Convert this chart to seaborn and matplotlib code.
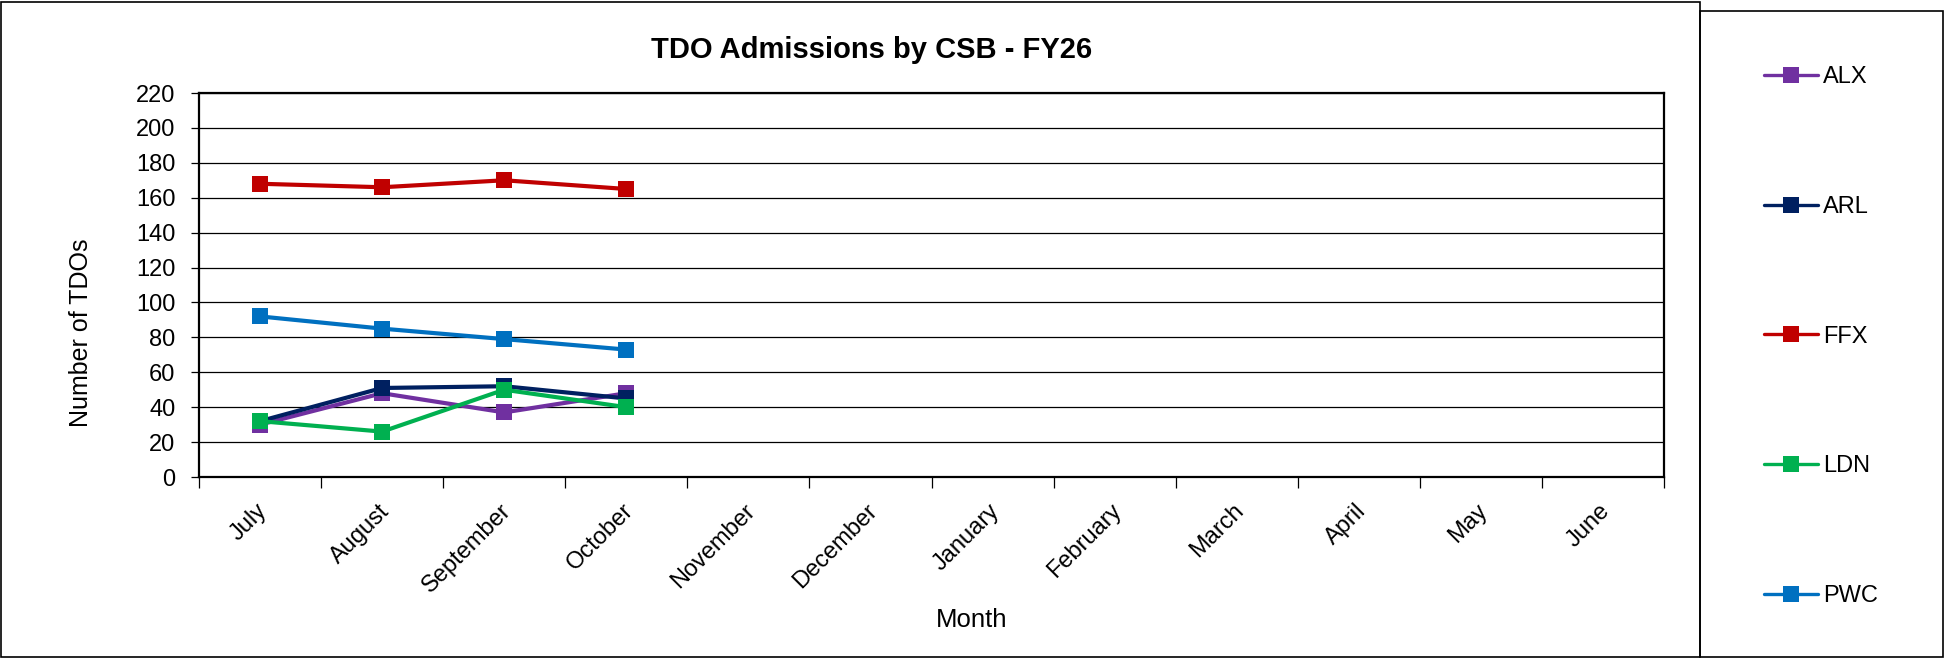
import matplotlib
matplotlib.use("Agg")
import matplotlib.pyplot as plt
import matplotlib.transforms as mtransforms
from matplotlib.patches import Rectangle
import seaborn as sns
import pandas as pd
import numpy as np

months = ["July", "August", "September", "October", "November", "December",
          "January", "February", "March", "April", "May", "June"]
series_names = ["ALX", "ARL", "FFX", "LDN", "PWC"]
alx = [30, 48, 37, 48]
arl = [32, 51, 52, 45]
ffx = [168, 166, 170, 165]
ldn = [32, 26, 50, 40]
pwc = [92, 85, 79, 73]
colors = ["#7030A0", "#002060", "#C00000", "#00B050", "#0070C0"]

title = "TDO Admissions by CSB - FY26"
x_label = "Month"
y_label = "Number of TDOs"
y_ticks = list(range(0, 221, 20))

rows = []
for name, vals in zip(series_names, [alx, arl, ffx, ldn, pwc]):
    for i, v in enumerate(vals):
        rows.append({"month_idx": i, "value": v, "CSB": name})
df = pd.DataFrame(rows)

sns.set_theme(style="white")
plt.rcParams["font.family"] = ["Liberation Sans", "DejaVu Sans"]
plt.rcParams["text.color"] = "black"
plt.rcParams["axes.labelcolor"] = "black"
plt.rcParams["xtick.color"] = "black"
plt.rcParams["ytick.color"] = "black"

W, H = 1951, 658
fig = plt.figure(figsize=(W / 100, H / 100), dpi=100)
ax = fig.add_axes([199 / W, 1 - 477 / H, (1664 - 199) / W, (477 - 93) / H])

sns.lineplot(data=df, x="month_idx", y="value", hue="CSB", hue_order=series_names,
             palette=colors, style="CSB", markers=["s"] * 5, dashes=False,
             linewidth=3.0, markersize=11, markeredgewidth=0, ax=ax, legend=True)

ax.set_xlim(-0.5, len(months) - 0.5)
ax.set_ylim(0, 220)
ax.set_yticks(y_ticks)
ax.set_yticklabels([str(t) for t in y_ticks], fontsize=17, color="black")
ax.yaxis.grid(True, color="black", linewidth=0.9)
ax.set_axisbelow(True)

# category boundaries as major ticks, labels at centers as minor ticks
ax.set_xticks(np.arange(-0.5, len(months) + 0.5, 1.0))
ax.set_xticklabels([])
ax.set_xticks(np.arange(len(months)), minor=True)
ax.set_xticklabels(months, minor=True, rotation=45, ha="right", va="top",
                   rotation_mode="anchor", fontsize=17, color="black")
ax.tick_params(axis="x", which="major", direction="out", length=8, width=0.9,
               color="black", bottom=True)
ax.tick_params(axis="x", which="minor", length=0, pad=16.5)
ax.tick_params(axis="y", direction="out", length=6, width=0.9, color="black",
               left=True, pad=11)
offset = mtransforms.ScaledTranslation(-3 / 72, 0, fig.dpi_scale_trans)
for lab in ax.get_xticklabels(minor=True):
    lab.set_transform(lab.get_transform() + offset)

for s in ax.spines.values():
    s.set_color("black")
    s.set_linewidth(1.6)
    s.set_visible(True)

ax.set_xlabel("")
ax.set_ylabel("")
fig.text(972 / W, 1 - 620 / H, x_label, fontsize=18.5, ha="center", va="center",
         color="black")
fig.text(81 / W, 1 - 333 / H, y_label, fontsize=18, ha="center", va="center",
         rotation=90, color="black")
fig.text(872 / W, 1 - 50 / H, title, fontsize=21, fontweight="bold",
         ha="center", va="center", color="black")

handles, labels = ax.get_legend_handles_labels()
ax.get_legend().remove()
for h in handles:
    h.set_markersize(11)
    h.set_linewidth(2.4)
fig.legend(handles, labels, loc="upper left",
           bbox_to_anchor=(1764 / W, 1 - 66 / H), frameon=False,
           fontsize=17, labelspacing=4.565, handlelength=2.29, handletextpad=0.2,
           borderaxespad=0, borderpad=0, labelcolor="black")

# outer chart frame and legend box
fig.patches.append(Rectangle((1 / W, 1 / H), 1699 / W, 655 / H,
                             transform=fig.transFigure, fill=False,
                             edgecolor="black", linewidth=1.2))
fig.patches.append(Rectangle((1700 / W, 1 / H), 243 / W, 646 / H,
                             transform=fig.transFigure, fill=False,
                             edgecolor="black", linewidth=1.2))

fig.savefig("out.png", dpi=100, facecolor="white")
